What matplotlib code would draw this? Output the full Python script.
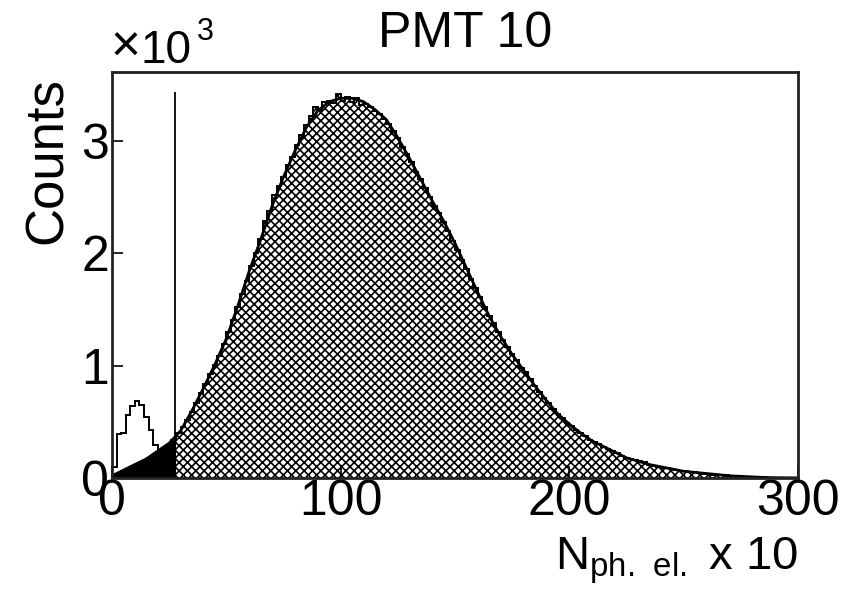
import numpy as np
import matplotlib
matplotlib.use("Agg")
import matplotlib.pyplot as plt
from matplotlib.patches import Rectangle

plt.rcParams["font.family"] = ["Liberation Sans", "DejaVu Sans"]
plt.rcParams["mathtext.default"] = "regular"
plt.rcParams["hatch.linewidth"] = 1.2

# histogram contents (x10^3 counts), bins of 2 from 0 to 300
counts_k = [
    0.10, 0.39, 0.40, 0.56, 0.64, 0.69, 0.65, 0.54, 0.43, 0.29,
    0.25, 0.27, 0.29, 0.34, 0.40, 0.45, 0.52, 0.59, 0.67, 0.76,
    0.84, 0.93, 1.01, 1.09, 1.19, 1.30, 1.41, 1.52, 1.64, 1.75,
    1.89, 2.00, 2.13, 2.29, 2.38, 2.52, 2.60, 2.68, 2.79, 2.86,
    2.96, 3.05, 3.14, 3.22, 3.30, 3.28, 3.35, 3.36, 3.34, 3.42,
    3.36, 3.39, 3.35, 3.38, 3.32, 3.33, 3.30, 3.27, 3.24, 3.20,
    3.15, 3.09, 3.03, 2.95, 2.88, 2.81, 2.72, 2.66, 2.58, 2.50,
    2.42, 2.36, 2.28, 2.20, 2.11, 2.03, 1.94, 1.86, 1.77, 1.69,
    1.61, 1.52, 1.44, 1.38, 1.30, 1.23, 1.17, 1.10, 1.05, 0.98,
    0.94, 0.88, 0.82, 0.77, 0.71, 0.67, 0.61, 0.57, 0.53, 0.49,
    0.46, 0.43, 0.40, 0.37, 0.34, 0.32, 0.30, 0.28, 0.26, 0.24,
    0.22, 0.20, 0.18, 0.17, 0.16, 0.15, 0.14, 0.12, 0.11, 0.10,
    0.09, 0.085, 0.08, 0.07, 0.065, 0.06, 0.05, 0.05, 0.045, 0.04,
    0.035, 0.03, 0.03, 0.025, 0.025, 0.02, 0.02, 0.015, 0.012, 0.01,
    0.005, 0.004, 0.006, 0.003, 0.002, 0.002, 0.001, 0.001, 0.0, 0.0,
]
bin_width = 2

# fitted signal curve (x10^3)
fit_x = [0, 5, 10, 15, 20, 25, 30, 35, 40, 45, 50, 55, 60, 65, 70, 75, 80,
         85, 90, 95, 100, 105, 110, 115, 120, 125, 130, 135, 140, 145, 150,
         155, 160, 165, 170, 175, 180, 185, 190, 195, 200, 205, 210, 215,
         220, 225, 230, 235, 240, 245, 250, 255, 260, 265, 270, 275, 280,
         285, 290, 295, 300]
fit_y = [0.02, 0.07, 0.12, 0.17, 0.24, 0.31, 0.42, 0.60, 0.80, 1.01, 1.24,
         1.53, 1.84, 2.12, 2.42, 2.68, 2.91, 3.12, 3.27, 3.35, 3.38, 3.38,
         3.35, 3.28, 3.19, 3.03, 2.85, 2.66, 2.47, 2.29, 2.09, 1.87, 1.65,
         1.44, 1.26, 1.10, 0.96, 0.82, 0.69, 0.57, 0.48, 0.40, 0.33, 0.28,
         0.23, 0.18, 0.15, 0.12, 0.10, 0.08, 0.06, 0.05, 0.04, 0.03, 0.02,
         0.015, 0.01, 0.005, 0.003, 0.002, 0.001]

cut_x = 27.4
cut_top = 3.44

edges = bin_width * np.arange(len(counts_k) + 1)

fig = plt.figure(figsize=(8.54, 5.95), dpi=100)
ax = fig.add_axes([0.1311, 0.1966, 0.8033, 0.6816])

# black area below the cut
below = ax.fill_between(fit_x, fit_y, color="black", lw=0)
below.set_clip_path(Rectangle((0, 0), cut_x, 4, transform=ax.transData))

# hatched area above the cut
above = ax.stairs(counts_k, edges, fill=True, facecolor="none",
                  edgecolor="black", hatch="xxxx", linewidth=0)
above.set_clip_path(Rectangle((cut_x, 0), 300, 4, transform=ax.transData))

ax.stairs(counts_k, edges, color="black", linewidth=1.4)
ax.plot(fit_x, fit_y, color="black", linewidth=2.0)
ax.vlines(cut_x, 0, cut_top, color="black", linewidth=1.3)

ax.set_xlim(0, 300)
ax.set_ylim(0, 3.61)
ax.set_xticks([0, 100, 200, 300])
ax.set_yticks([0, 1, 2, 3])
ax.tick_params(axis="both", direction="in", labelsize=36, width=1.2)
ax.tick_params(axis="x", length=9, pad=1, top=False)
ax.tick_params(axis="y", length=8, pad=2)
for s in ax.spines.values():
    s.set_linewidth(2.0)
    s.set_color("#222222")

fig.text(465 / 854, 1 - 47 / 595, "PMT 10", ha="center", va="baseline",
         fontsize=36)
fig.text(110 / 854, 1 - 62 / 595, "\u00d7", ha="left", va="baseline",
         fontsize=37)
fig.text(141 / 854, 1 - 63 / 595, "10", ha="left", va="baseline",
         fontsize=33)
fig.text(197 / 854, 1 - 40 / 595, "3", ha="left", va="baseline", fontsize=22)
fig.text(62 / 854, 1 - 77 / 595, "Counts", rotation=90, rotation_mode="anchor",
         ha="right", va="baseline", fontsize=38)
fig.text(798 / 854, 1 - 570 / 595, r"N$_{ph.\ el.}$ x 10", ha="right",
         va="baseline", fontsize=34)

fig.savefig("out.png", dpi=100)
